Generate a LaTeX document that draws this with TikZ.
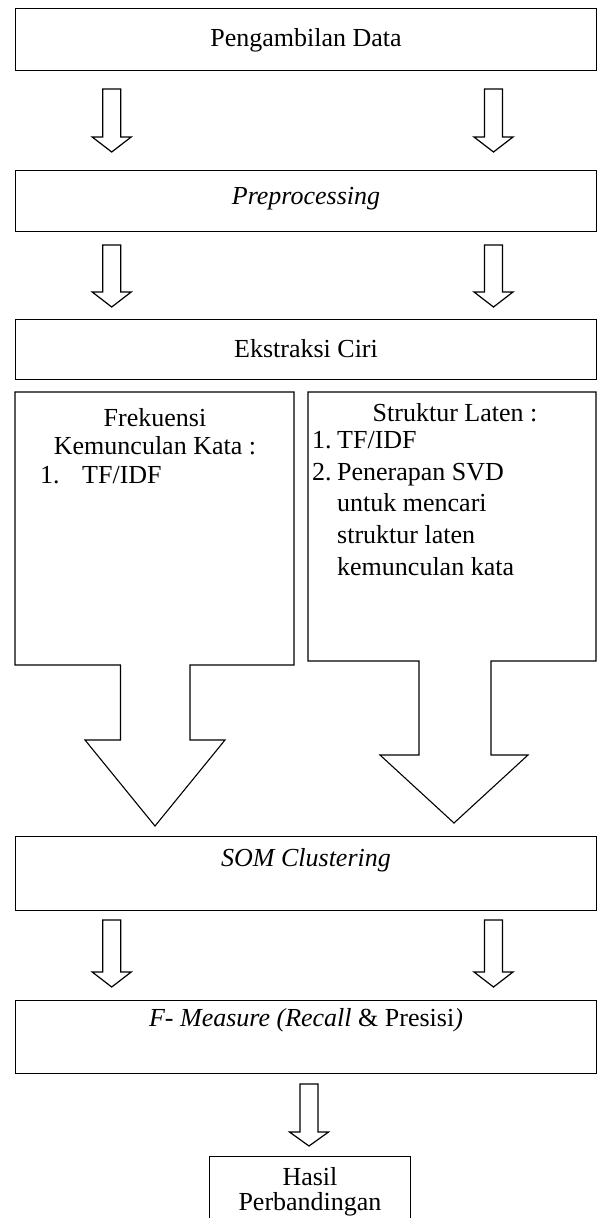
\documentclass[tikz,border=0pt]{standalone}
\usepackage{fontspec}
\setmainfont{Liberation Serif}
\begin{document}
\begin{tikzpicture}[x=1pt,y=-1pt,line join=miter]
\tikzset{
  box/.style={draw=black,line width=1.1pt,fill=white,inner sep=0pt,anchor=north west},
  blk/.style={draw=black,line width=1.2pt,fill=white},
  txt/.style={font=\fontsize{26}{31}\selectfont,inner sep=0pt},
}
\newcommand\smallarrow[4]{%
  \draw[blk] (#1-9,#2) -- (#1+9,#2) -- (#1+9,#3) -- (#1+19.5,#3) -- (#1,#4)
     -- (#1-19.5,#3) -- (#1-9,#3) -- cycle;}
\clip (0,0) rectangle (597,1218);
\fill[white] (0,0) rectangle (597,1218);

% top boxes
\node[box,minimum width=581pt,minimum height=62pt] (b1) at (15,8) {};
\node[txt] (t1) at (306,40) {Pengambilan Data};
\smallarrow{111.7}{89}{137}{152}
\smallarrow{493.5}{89}{137}{152}
\node[box,minimum width=581pt,minimum height=61pt] (b2) at (15,170) {};
\node[txt] (t2) at (306,199) {\itshape Preprocessing};
\smallarrow{111.7}{245}{292}{307}
\smallarrow{493.5}{245}{292}{307}
\node[box,minimum width=581pt,minimum height=60pt] (b3) at (15,319) {};
\node[txt] (t3) at (306,349) {Ekstraksi Ciri};

% big boxes with block arrows
\draw[box] (15,392) -- (294,392) -- (294,665) -- (190,665) -- (190,740) -- (225,740)
  -- (155,826) -- (85,740) -- (120.5,740) -- (120.5,665) -- (15,665) -- cycle;
\draw[box] (308,392) -- (596,392) -- (596,661) -- (491,661) -- (491,755) -- (528,755)
  -- (454,823) -- (380,755) -- (419,755) -- (419,661) -- (308,661) -- cycle;

\node[txt,anchor=base] (l1) at (155,426) {Frekuensi};
\node[txt,anchor=base] (l2) at (155,454) {Kemunculan Kata :};
\node[txt,anchor=base west] (l3n) at (40,483) {1.};
\node[txt,anchor=base west] (l3) at (82,483) {TF/IDF};

\node[txt,anchor=base] (r1) at (455,421) {Struktur Laten :};
\node[txt,anchor=base west] (r2n) at (312,448) {1.};
\node[txt,anchor=base west] (r2) at (337,448) {TF/IDF};
\node[txt,anchor=base west] (r3n) at (312,480) {2.};
\node[txt,anchor=base west] (r3) at (337,480) {Penerapan SVD};
\node[txt,anchor=base west] (r4) at (337,511) {untuk mencari};
\node[txt,anchor=base west] (r5) at (337,543) {struktur laten};
\node[txt,anchor=base west] (r6) at (337,575) {kemunculan kata};

% SOM
\node[box,minimum width=581pt,minimum height=74pt,line width=1.4pt] (b4) at (15,836) {};
\node[txt] (t4) at (306,860) {\itshape SOM Clustering};
\smallarrow{111.7}{920}{972}{987}
\smallarrow{493.5}{920}{972}{987}

% F-measure
\node[box,minimum width=581pt,minimum height=73pt] (b5) at (15,1000) {};
\node[txt] (t5) at (306,1020) {\textit{F- Measure (Recall} \& Presisi\textit{)}};
\smallarrow{309}{1084}{1132}{1146}

% result
\node[box,minimum width=201pt,minimum height=110pt] (b6) at (209,1156) {};
\node[txt,anchor=base] (t6) at (310,1185) {Hasil};
\node[txt,anchor=base] (t7) at (310,1210) {Perbandingan};
\end{tikzpicture}
\end{document}
